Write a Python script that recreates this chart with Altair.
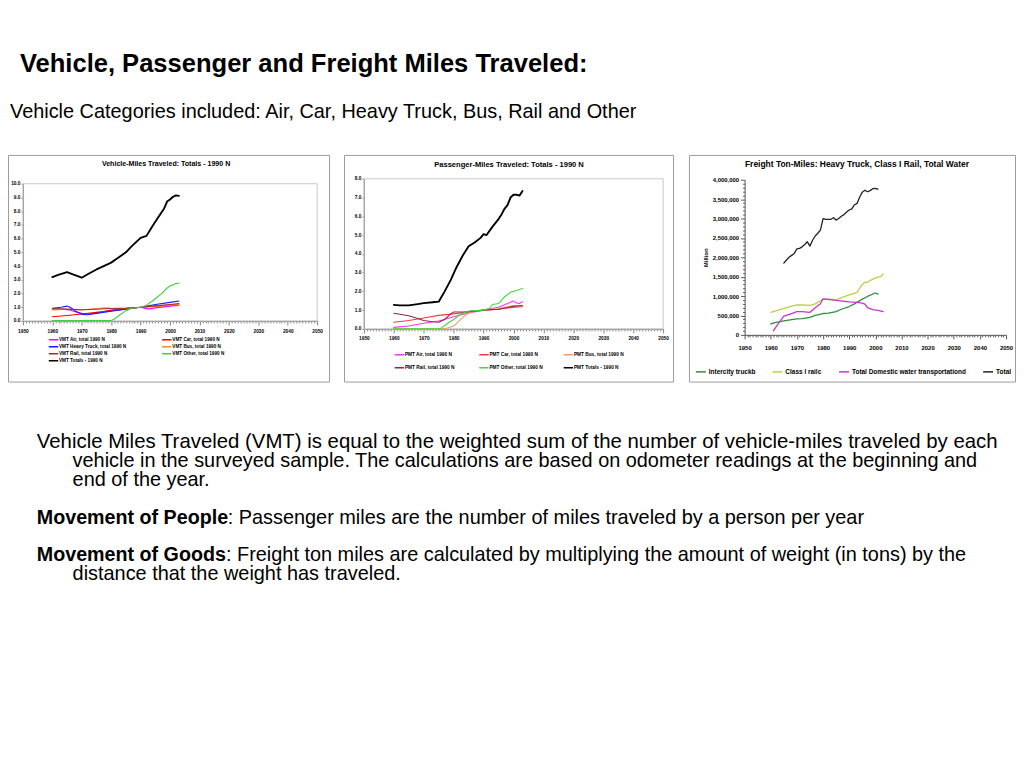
import altair as alt
import pandas as pd

FONT = "Liberation Sans"
W, H = 1014, 600

# ---------------- slide text ----------------
heading = "Vehicle, Passenger and Freight Miles Traveled:"
subheading = "Vehicle Categories included: Air, Car, Heavy Truck, Bus, Rail and Other"
para1 = ["Vehicle Miles Traveled (VMT) is equal to the weighted sum of the number of vehicle-miles traveled by each",
         "vehicle in the surveyed sample. The calculations are based on odometer readings at the beginning and",
         "end of the year."]
people_bold = "Movement of People"
people_rest = ": Passenger miles are the number of miles traveled by a person per year"
goods_bold = "Movement of Goods"
goods_rest = ": Freight ton miles are calculated by multiplying the amount of weight (in tons) by the"
goods_line2 = "distance that the weight has traveled."

# ---------------- panel 1 : Vehicle-Miles ----------------
vmt_title = "Vehicle-Miles Traveled:  Totals - 1990 N"
vmt_names = ["VMT Air, total 1990 N", "VMT Car, total 1990 N", "VMT Heavy Truck, total 1990 N",
             "VMT Bus, total 1990 N", "VMT Rail, total 1990 N", "VMT Other, total 1990 N",
             "VMT Totals - 1990 N"]
vmt_colors = ["#ff00ff", "#ff0000", "#1a1aff", "#ff8c1a", "#993333", "#40d040", "#000000"]
vmt_air_years = [1960, 1963, 1966, 1968, 1970, 1973, 1975, 1978, 1980, 1985, 1990, 1991, 1992, 1993, 1995, 2000, 2003]
vmt_air = [0.85, 0.85, 0.8, 0.65, 0.55, 0.52, 0.58, 0.7, 0.8, 0.9, 1.0, 0.95, 0.88, 0.88, 0.95, 1.08, 1.15]
vmt_car_years = [1960, 1965, 1970, 1975, 1980, 1985, 1990, 1995, 2000, 2003]
vmt_car = [0.3, 0.4, 0.5, 0.62, 0.75, 0.88, 1.0, 1.08, 1.15, 1.22]
vmt_truck_years = [1960, 1963, 1965, 1966, 1968, 1970, 1972, 1975, 1980, 1985, 1990, 1995, 2000, 2003]
vmt_truck = [0.92, 1.0, 1.08, 1.0, 0.7, 0.48, 0.45, 0.55, 0.7, 0.85, 1.0, 1.2, 1.35, 1.45]
vmt_bus_years = [1960, 1965, 1970, 1975, 1978, 1980, 1985, 1990, 1995, 2000, 2003]
vmt_bus = [0.8, 0.85, 0.8, 0.9, 0.95, 0.92, 0.9, 1.0, 1.05, 1.15, 1.2]
vmt_rail_years = [1960, 1965, 1970, 1975, 1980, 1985, 1990, 1995, 2000, 2003]
vmt_rail = [0.9, 0.86, 0.82, 0.85, 0.9, 0.93, 1.0, 1.1, 1.2, 1.27]
vmt_other_years = [1960, 1965, 1970, 1975, 1980, 1981, 1983, 1985, 1987, 1990, 1992, 1994, 1996, 1997, 1999, 2000, 2002, 2003]
vmt_other = [0.02, 0.02, 0.02, 0.03, 0.03, 0.12, 0.45, 0.75, 0.92, 1.0, 1.15, 1.45, 1.8, 1.95, 2.4, 2.55, 2.72, 2.75]
vmt_total_years = [1960, 1962, 1965, 1967, 1970, 1972, 1975, 1978, 1980, 1982, 1985, 1987, 1990, 1992, 1994, 1996,
                   1998, 1999, 2000, 2001, 2002, 2003]
vmt_total = [3.2, 3.35, 3.55, 3.4, 3.15, 3.4, 3.75, 4.05, 4.25, 4.55, 5.0, 5.45, 6.05, 6.2, 6.9, 7.55,
             8.2, 8.7, 8.85, 9.05, 9.15, 9.12]
vmt_yticks = [0, 1, 2, 3, 4, 5, 6, 7, 8, 9, 10]

# ---------------- panel 2 : Passenger-Miles ----------------
pmt_title = "Passenger-Miles Traveled:  Totals - 1990 N"
pmt_names = ["PMT Air, total 1990 N", "PMT Car, total 1990 N", "PMT Bus, total 1990 N",
             "PMT Rail, total 1990 N", "PMT Other, total 1990 N", "PMT Totals - 1990 N"]
pmt_colors = ["#ff33ff", "#f03c3c", "#ff9966", "#8b2d45", "#3ddc3d", "#000000"]
pmt_air_years = [1960, 1965, 1970, 1975, 1980, 1985, 1990, 1995, 1998, 2000, 2001, 2002, 2003]
pmt_air = [0.08, 0.15, 0.3, 0.42, 0.65, 0.85, 1.0, 1.15, 1.35, 1.48, 1.38, 1.35, 1.45]
pmt_car_years = [1960, 1965, 1970, 1975, 1980, 1985, 1990, 1995, 2000, 2003]
pmt_car = [0.35, 0.45, 0.58, 0.72, 0.8, 0.9, 1.0, 1.05, 1.15, 1.18]
pmt_bus_years = [1960, 1970, 1976, 1978, 1980, 1982, 1984, 1986, 1990, 1995, 2000, 2003]
pmt_bus = [0.0, 0.0, 0.0, 0.05, 0.15, 0.45, 0.75, 0.9, 1.0, 1.08, 1.25, 1.22]
pmt_rail_years = [1960, 1963, 1965, 1968, 1970, 1973, 1975, 1977, 1979, 1980, 1983, 1985, 1990, 1995, 2000, 2003]
pmt_rail = [0.83, 0.75, 0.7, 0.55, 0.45, 0.38, 0.35, 0.5, 0.8, 0.9, 0.9, 0.92, 1.0, 1.05, 1.2, 1.25]
pmt_other_years = [1960, 1965, 1970, 1975, 1976, 1978, 1980, 1982, 1985, 1990, 1992, 1993, 1995, 1997, 1999, 2001, 2003]
pmt_other = [0.0, 0.0, 0.0, 0.0, 0.05, 0.3, 0.5, 0.75, 0.95, 1.0, 1.1, 1.3, 1.35, 1.7, 1.95, 2.05, 2.15]
pmt_total_years = [1960, 1962, 1965, 1968, 1970, 1973, 1975, 1977, 1979, 1981, 1983, 1985, 1987, 1989, 1990,
                   1991, 1993, 1995, 1996, 1997, 1998, 1999, 2000, 2001, 2002, 2003]
pmt_total = [1.28, 1.25, 1.25, 1.32, 1.37, 1.42, 1.45, 2.0, 2.6, 3.3, 3.9, 4.4, 4.6, 4.85, 5.05,
             5.0, 5.45, 5.85, 6.1, 6.4, 6.6, 7.0, 7.15, 7.15, 7.1, 7.35]
pmt_yticks = [0, 1, 2, 3, 4, 5, 6, 7, 8]

# ---------------- panel 3 : Freight Ton-Miles (million) ----------------
ftm_title = "Freight Ton-Miles:  Heavy Truck, Class I Rail, Total  Water"
ftm_names = ["Intercity truckb", "Class I railc", "Total Domestic water transportationd", "Total"]
ftm_colors = ["#2f8f3a", "#bfcf45", "#cc33cc", "#222222"]
ftm_truck_years = [1960, 1962, 1965, 1968, 1970, 1972, 1975, 1977, 1980, 1982, 1985, 1987, 1990, 1992, 1995, 1997, 2000, 2001]
ftm_truck = [280000, 320000, 360000, 390000, 410000, 420000, 450000, 500000, 550000, 560000, 600000, 660000,
             730000, 800000, 920000, 990000, 1080000, 1050000]
ftm_rail_years = [1960, 1962, 1965, 1968, 1970, 1972, 1975, 1977, 1980, 1982, 1985, 1987, 1990, 1992, 1993,
                  1994, 1995, 1996, 1997, 1998, 2000, 2002, 2003]
ftm_rail = [580000, 620000, 680000, 740000, 770000, 770000, 760000, 800000, 920000, 900000, 900000, 960000,
            1030000, 1070000, 1100000, 1200000, 1300000, 1360000, 1350000, 1400000, 1470000, 1500000, 1570000]
ftm_water_years = [1961, 1963, 1965, 1968, 1970, 1972, 1975, 1977, 1979, 1980, 1982, 1985, 1990, 1993, 1995,
                   1996, 1997, 1999, 2001, 2003]
ftm_water = [100000, 300000, 480000, 550000, 600000, 600000, 580000, 700000, 800000, 930000, 920000, 890000,
             850000, 840000, 820000, 790000, 700000, 650000, 630000, 600000]
ftm_total_years = [1965, 1966, 1967, 1968, 1969, 1970, 1971, 1972, 1973, 1974, 1975, 1976, 1977, 1978, 1979,
                   1980, 1981, 1982, 1983, 1984, 1985, 1986, 1987, 1988, 1989, 1990, 1991, 1992, 1993, 1994,
                   1995, 1996, 1997, 1998, 1999, 2000, 2001]
ftm_total = [1850000, 1930000, 2000000, 2050000, 2100000, 2220000, 2230000, 2270000, 2330000, 2400000,
             2290000, 2440000, 2550000, 2620000, 2700000, 3000000, 2980000, 2980000, 2980000, 3020000,
             2960000, 3000000, 3060000, 3100000, 3170000, 3220000, 3250000, 3350000, 3390000, 3550000,
             3680000, 3730000, 3690000, 3720000, 3770000, 3780000, 3760000]

year_ticks = list(range(1950, 2051))
ftm_yticks = list(range(0, 4000001, 100000))


# ---------------- helpers ----------------
def lines_df(names, years_list, values_list):
    rows = []
    for n, ys, vs in zip(names, years_list, values_list):
        for y, v in zip(ys, vs):
            rows.append({"series": n, "year": y, "value": v})
    return pd.DataFrame(rows)


one = pd.DataFrame({"a": [0]})


def text_layer(txt, x, y, size, weight="normal", align="left"):
    return alt.Chart(pd.DataFrame({"t": [txt]})).mark_text(
        align=align, baseline="alphabetic", font=FONT, fontSize=size,
        fontWeight=weight, color="black"
    ).encode(x=alt.value(x), y=alt.value(y), text="t:N")


def year_axis(offset, size, pad, color):
    return alt.Axis(
        orient="bottom", offset=offset, values=year_ticks, format="d",
        labelExpr="datum.value % 10 === 0 ? datum.label : ''",
        tickSize={"condition": {"test": "datum.value % 10 === 0", "value": 4}, "value": 2},
        labelFont=FONT, labelFontSize=size, labelFontWeight="bold", labelColor="black",
        labelPadding=pad, labelFlush=False, labelOverlap=False, labelBound=False,
        domainColor=color, tickColor=color, domainWidth=1, tickWidth=1, grid=False, title=None)


def panel(df, names, colors, thick, xr, yr, ydom, xaxis, yaxis, legend, box, border,
          title, tx, ty, tsize, w_thin, w_thick):
    xs = alt.Scale(domain=[1950, 2050], range=xr, nice=False, zero=False)
    ys = alt.Scale(domain=ydom, range=yr, nice=False, zero=False)
    x0, y0, x1, y1 = box
    layers = [alt.Chart(one).mark_rect(fill="transparent", stroke="#9a9a9a", strokeWidth=1).encode(
        x=alt.value(x0), x2=alt.value(x1), y=alt.value(y0), y2=alt.value(y1))]
    if border:
        layers.append(alt.Chart(one).mark_rect(fill="transparent", stroke="#c8c8c8", strokeWidth=1).encode(
            x=alt.XDatum(1950, type="quantitative", scale=xs, axis=xaxis), x2=alt.X2Datum(2050),
            y=alt.YDatum(ydom[0], type="quantitative", scale=ys, axis=yaxis), y2=alt.Y2Datum(ydom[1])))
    layers.append(alt.Chart(df).mark_line(strokeJoin="round", strokeCap="round").encode(
        x=alt.X("year:Q", scale=xs, axis=xaxis),
        y=alt.Y("value:Q", scale=ys, axis=yaxis),
        color=alt.Color("series:N", scale=alt.Scale(domain=names, range=colors), legend=legend),
        strokeWidth=alt.when(alt.datum.series == thick).then(alt.value(w_thick)).otherwise(alt.value(w_thin)),
    ))
    layers.append(text_layer(title, tx, ty, tsize, "bold", "center"))
    return alt.layer(*layers)


# ---------------- panel 1 ----------------
df1 = lines_df(vmt_names,
               [vmt_air_years, vmt_car_years, vmt_truck_years, vmt_bus_years, vmt_rail_years, vmt_other_years, vmt_total_years],
               [vmt_air, vmt_car, vmt_truck, vmt_bus, vmt_rail, vmt_other, vmt_total])
p1 = panel(
    df1, vmt_names, vmt_colors, "VMT Totals - 1990 N",
    [15, 311], [313, 175], [0, 10],
    year_axis(-(H - 313), 4.8, 3.5, "#808080"),
    alt.Axis(orient="left", offset=-15, values=vmt_yticks, format=".1f", tickSize=2, labelPadding=1,
             labelFont=FONT, labelFontSize=4.8, labelFontWeight="bold", labelColor="black",
             domainColor="#808080", tickColor="#808080", grid=False, title=None),
    alt.Legend(orient="none", legendX=40.25, legendY=328.5, direction="horizontal", columns=2,
               gridAlign="all", columnPadding=35, rowPadding=0, clipHeight=7,
               symbolType="stroke", symbolSize=90, symbolStrokeWidth=1.5,
               labelFont=FONT, labelFontSize=4.7, labelFontWeight="bold", labelColor="black",
               labelOffset=0, labelLimit=300, padding=0, title=None),
    (0.5, 146.5, 323.5, 374.5), True,
    vmt_title, 159, 157.5, 7.1, 1.1, 1.9)

# ---------------- panel 2 ----------------
df2 = lines_df(pmt_names,
               [pmt_air_years, pmt_car_years, pmt_bus_years, pmt_rail_years, pmt_other_years, pmt_total_years],
               [pmt_air, pmt_car, pmt_bus, pmt_rail, pmt_other, pmt_total])
p2 = panel(
    df2, pmt_names, pmt_colors, "PMT Totals - 1990 N",
    [358, 659], [321, 170], [0, 8],
    year_axis(-(H - 321), 4.8, 3, "#808080"),
    alt.Axis(orient="left", offset=-358, values=pmt_yticks, format=".1f", tickSize=2, labelPadding=1,
             labelFont=FONT, labelFontSize=4.8, labelFontWeight="bold", labelColor="black",
             domainColor="#808080", tickColor="#808080", grid=False, title=None),
    alt.Legend(orient="none", legendX=388.25, legendY=343.5, direction="horizontal", columns=3,
               gridAlign="all", columnPadding=20, rowPadding=6, clipHeight=7,
               symbolType="stroke", symbolSize=90, symbolStrokeWidth=1.5,
               labelFont=FONT, labelFontSize=4.8, labelFontWeight="bold", labelColor="black",
               labelOffset=0, labelLimit=300, padding=0, title=None),
    (338.5, 146.5, 669.5, 374.5), True,
    pmt_title, 504, 157.7, 7.6, 1.1, 1.9)

# ---------------- panel 3 ----------------
df3 = lines_df(ftm_names,
               [ftm_truck_years, ftm_rail_years, ftm_water_years, ftm_total_years],
               [ftm_truck, ftm_rail, ftm_water, ftm_total])
p3 = panel(
    df3, ftm_names, ftm_colors, "Total",
    [741, 1004], [327, 171], [0, 4000000],
    year_axis(-(H - 327), 6, 6, "#555555"),
    alt.Axis(orient="left", offset=-741, values=ftm_yticks, format=",d",
             labelExpr="datum.value % 500000 === 0 ? datum.label : ''",
             tickSize={"condition": {"test": "datum.value % 500000 === 0", "value": 4}, "value": 2},
             labelPadding=2, labelOverlap=False, labelFlush=False, labelBound=False,
             labelFont=FONT, labelFontSize=6, labelFontWeight="bold", labelColor="black",
             domainColor="#555555", tickColor="#555555", grid=False,
             title="Million", titleFont=FONT, titleFontSize=6, titleFontWeight="bold",
             titleColor="black", titlePadding=4),
    alt.Legend(orient="none", legendX=691, legendY=358, direction="horizontal", columns=4,
               gridAlign="each", columnPadding=14, rowPadding=0,
               symbolType="stroke", symbolSize=100, symbolStrokeWidth=1.5,
               labelFont=FONT, labelFontSize=6.5, labelFontWeight="bold", labelColor="black",
               labelOffset=2, labelLimit=300, padding=0, title=None),
    (685.5, 146.5, 1013.5, 374.5), False,
    ftm_title, 854, 158, 8.5, 1.3, 1.3)

# ---------------- slide text layers ----------------
texts = [
    text_layer(heading, 12, 62.5, 25.7, "bold"),
    text_layer(subheading, 2, 109, 20),
    text_layer(para1[0], 29, 441, 20.5),
    text_layer(para1[1], 65, 460, 20),
    text_layer(para1[2], 65, 479, 20),
    text_layer(people_bold, 29, 517, 19.8, "bold"),
    text_layer(people_rest, 221, 517, 20),
    text_layer(goods_bold, 29, 555, 19.8, "bold"),
    text_layer(goods_rest, 219.3, 555, 20),
    text_layer(goods_line2, 65, 574, 20),
]

chart = alt.layer(*texts, p1, p2, p3).resolve_scale(
    x="independent", y="independent", color="independent"
).properties(
    width=W, height=H, autosize=alt.AutoSizeParams(type="none"), padding=0, background="white"
).configure_view(strokeWidth=0)

chart.save("out.html", embed_options={"renderer": "svg", "actions": False})
